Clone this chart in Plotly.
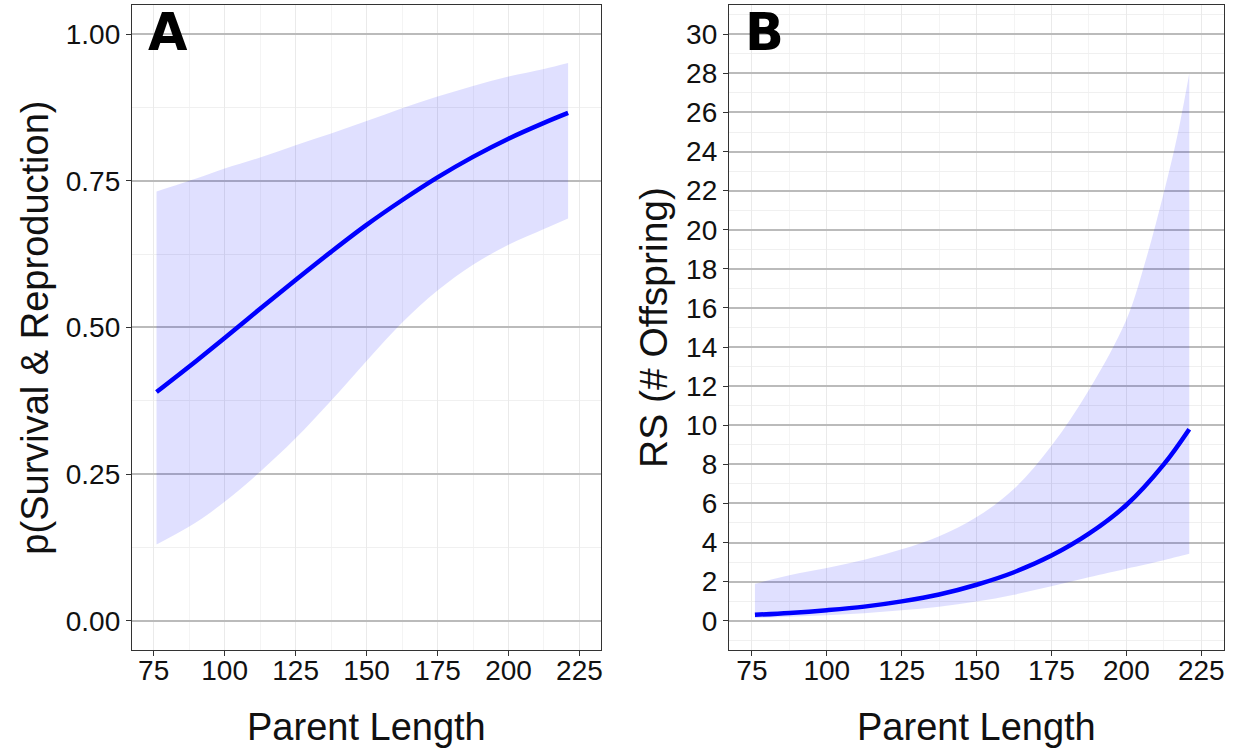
import plotly.graph_objects as go

# Panel A: probability of survival & reproduction vs parent length
len_a = [76, 90, 100, 112.5, 125, 137.5, 150, 162.5, 175, 187.5, 200, 212.5, 221]
fit_a = [0.390, 0.443, 0.482, 0.532, 0.581, 0.629, 0.675, 0.717, 0.756, 0.791, 0.822, 0.849, 0.866]
upper_a = [0.732, 0.754, 0.771, 0.790, 0.811, 0.831, 0.852, 0.874, 0.894, 0.912, 0.928, 0.941, 0.951]
lower_a = [0.130, 0.168, 0.203, 0.254, 0.311, 0.375, 0.443, 0.508, 0.563, 0.607, 0.641, 0.668, 0.686]

# Panel B: reproductive success (number of offspring) vs parent length
len_b_fit = [76, 87.5, 100, 112.5, 125, 137.5, 150, 162.5, 175, 187.5, 200, 212.5, 221]
fit_b = [0.30, 0.40, 0.54, 0.72, 0.99, 1.34, 1.84, 2.48, 3.33, 4.45, 5.92, 8.00, 9.80]
len_b_band = [76, 87.5, 100, 112.5, 125, 137.5, 150, 162.5, 175, 187.5, 200, 206, 212.5, 217, 221]
upper_b = [1.89, 2.33, 2.70, 3.12, 3.65, 4.32, 5.30, 6.75, 8.95, 11.8, 15.4, 18.2, 21.9, 24.8, 28.0]
lower_b = [0.14, 0.20, 0.28, 0.38, 0.53, 0.72, 0.98, 1.33, 1.76, 2.22, 2.66, 2.86, 3.09, 3.27, 3.43]

x_ticks = [75, 100, 125, 150, 175, 200, 225]
y_ticks_a = [0.00, 0.25, 0.50, 0.75, 1.00]
y_ticks_b = list(range(0, 31, 2))

LINE_BLUE = "#0000FF"
BAND_FILL = "rgba(0,0,255,0.12)"
FONT = "Liberation Sans, Arial, sans-serif"
SMOOTH = 1.0

fig = go.Figure()


def add_panel(x_band, lo, hi, x_fit, fit, xa, ya):
    fig.add_trace(go.Scatter(x=x_band, y=lo, mode="lines",
                             line=dict(width=0, shape="spline", smoothing=SMOOTH),
                             hoverinfo="skip", showlegend=False, xaxis=xa, yaxis=ya))
    fig.add_trace(go.Scatter(x=x_band, y=hi, mode="lines",
                             line=dict(width=0, shape="spline", smoothing=SMOOTH),
                             fill="tonexty", fillcolor=BAND_FILL, hoverinfo="skip", showlegend=False,
                             xaxis=xa, yaxis=ya))
    fig.add_trace(go.Scatter(x=x_fit, y=fit, mode="lines",
                             line=dict(color=LINE_BLUE, width=4.5, shape="spline", smoothing=SMOOTH),
                             showlegend=False, xaxis=xa, yaxis=ya))


add_panel(len_a, lower_a, upper_a, len_a, fit_a, "x", "y")
add_panel(len_b_band, lower_b, upper_b, len_b_fit, fit_b, "x2", "y2")

axis_common = dict(
    showline=True, linecolor="#333333", linewidth=1, mirror=True,
    ticks="outside", ticklen=5, tickcolor="#333333", tickwidth=1,
    tickfont=dict(family=FONT, size=28, color="#111111"),
    zeroline=False,
)

x_common = dict(axis_common, range=[67.3, 232.6], tickvals=x_ticks, showgrid=True,
                gridcolor="#EAEAEA", gridwidth=1, ticklabelstandoff=-10,
                minor=dict(showgrid=True, gridcolor="#F4F4F4", gridwidth=1, dtick=12.5, tick0=62.5))

fig.update_layout(
    width=1242, height=754,
    margin=dict(l=0, r=0, t=0, b=0),
    paper_bgcolor="white", plot_bgcolor="white",
    xaxis=dict(x_common, domain=[0.1063, 0.4847], anchor="y"),
    xaxis2=dict(x_common, domain=[0.5878, 0.9871], anchor="y2"),
    yaxis=dict(axis_common, domain=[0.1379, 0.9934], anchor="x", range=[-0.05, 1.05],
               tickvals=y_ticks_a, ticktext=[f"{v:.2f}" for v in y_ticks_a],
               showgrid=True, gridcolor="#BBBBBB", gridwidth=1.5,
               minor=dict(showgrid=True, gridcolor="#F0F0F0", gridwidth=1, dtick=0.125, tick0=0)),
    yaxis2=dict(axis_common, domain=[0.1379, 0.9934], anchor="x2", range=[-1.5, 31.5],
                tickvals=y_ticks_b, showgrid=True, gridcolor="#BBBBBB", gridwidth=1.5,
                minor=dict(showgrid=True, gridcolor="#F0F0F0", gridwidth=1, dtick=1, tick0=0)),
)

title_font = dict(family=FONT, size=38, color="#111111")
fig.add_annotation(text="Parent Length", xref="paper", yref="paper", x=0.2955, y=0.0358,
                   xanchor="center", yanchor="middle", showarrow=False, font=title_font)
fig.add_annotation(text="Parent Length", xref="paper", yref="paper", x=0.7874, y=0.0358,
                   xanchor="center", yanchor="middle", showarrow=False, font=title_font)
fig.add_annotation(text="p(Survival & Reproduction)", xref="paper", yref="paper", x=0.0275, y=0.5656,
                   textangle=-90, xanchor="center", yanchor="middle", showarrow=False,
                   font=dict(family=FONT, size=38, color="#111111"))
fig.add_annotation(text="RS (# Offspring)", xref="paper", yref="paper", x=0.5270, y=0.5656,
                   textangle=-90, xanchor="center", yanchor="middle", showarrow=False,
                   font=dict(family=FONT, size=39, color="#111111"))

letter_font = dict(family="DejaVu Sans, sans-serif", size=51, color="black", weight="bold")
fig.add_annotation(text="A", xref="paper", yref="paper", x=0.1353, y=0.957,
                   xanchor="center", yanchor="middle", showarrow=False, font=letter_font)
fig.add_annotation(text="B", xref="paper", yref="paper", x=0.6167, y=0.957,
                   xanchor="center", yanchor="middle", showarrow=False, font=letter_font)

fig.write_html("out.html")
